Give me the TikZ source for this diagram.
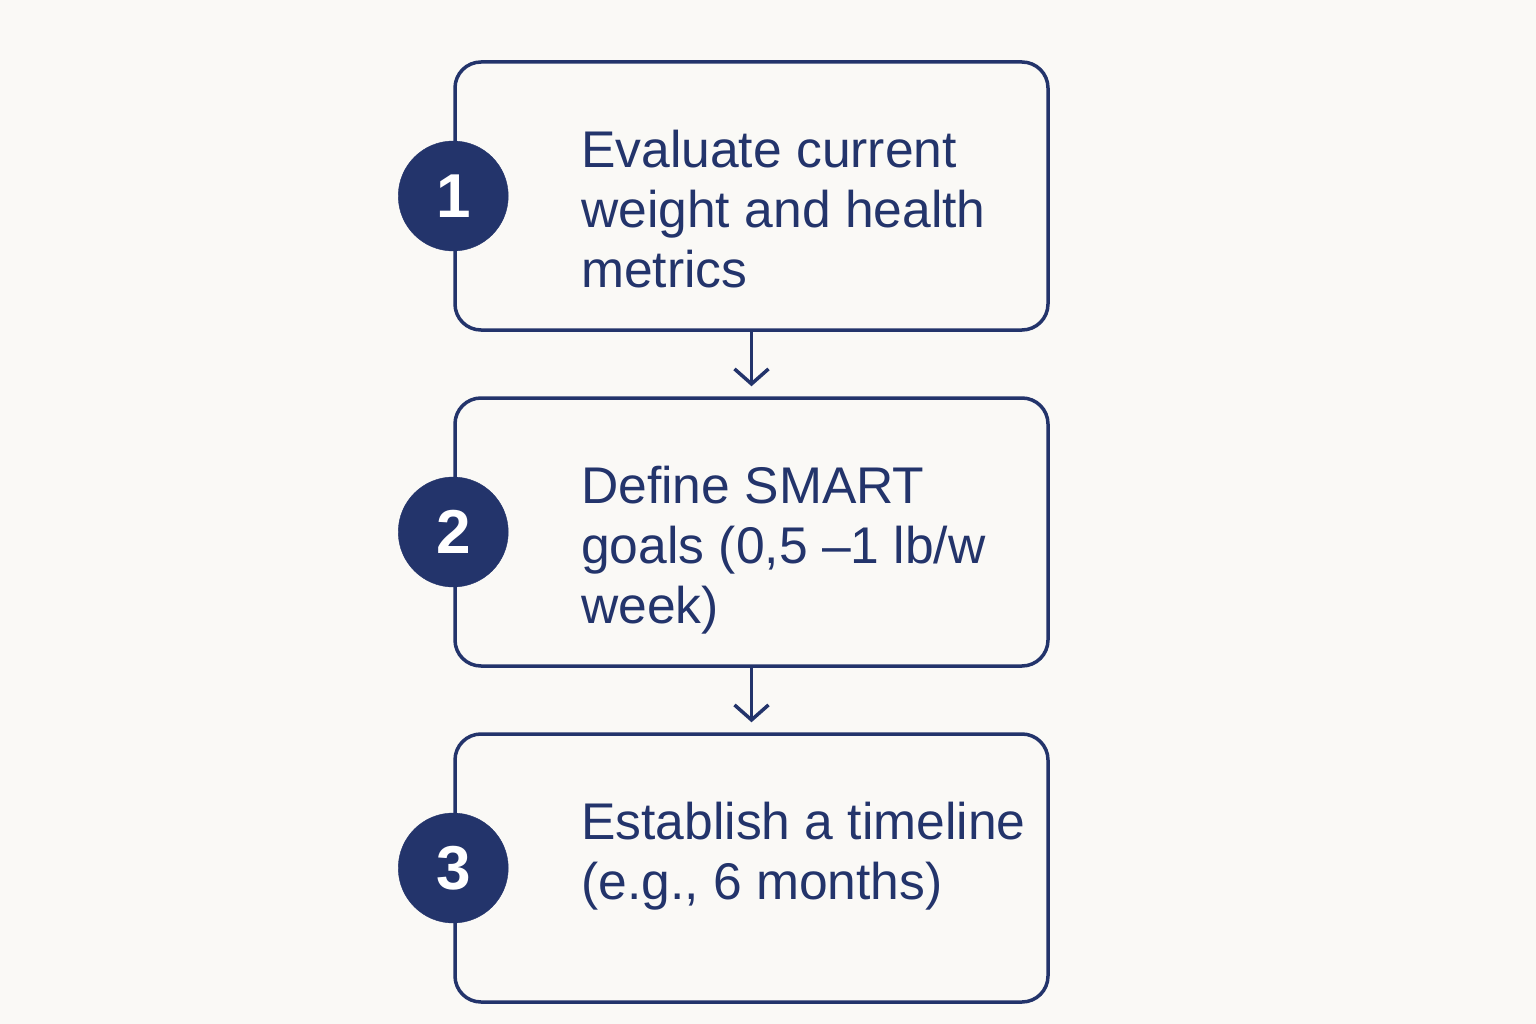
\documentclass[tikz,border=0pt]{standalone}
\usepackage{fontspec}
\setmainfont{Liberation Sans}
\usetikzlibrary{positioning,arrows.meta}
\definecolor{navy}{RGB}{35,52,107}
\definecolor{paper}{RGB}{250,249,246}

\tikzset{
  stepbox/.style={draw=navy, line width=3.5pt, rounded corners=26pt,
    minimum width=593pt, minimum height=268pt, inner sep=0pt},
  numdot/.style={circle, fill=navy, draw=navy, minimum size=110pt,
    inner sep=0pt, text=white, font=\fontsize{62}{64}\selectfont\bfseries},
  steptext/.style={anchor=north west, align=left, inner sep=0pt,
    text=navy, font=\fontsize{51.6}{60}\selectfont},
  flow/.style={draw=navy, line width=3.5pt, shorten >=10pt,
    -{Straight Barb[length=15pt,width=34pt]}}
}

\begin{document}
\begin{tikzpicture}[x=1pt,y=-1pt]
    \fill[paper] (0,0) rectangle (1536,1024);
    \useasboundingbox (0,0) rectangle (1536,1024);

    % the three steps
    \node[stepbox] (b1) at (751.5,196) {};
    \node[stepbox] (b2) at (751.5,532) {};
    \node[stepbox] (b3) at (751.5,868) {};

    \node[steptext] (t1) at (581,130) {Evaluate current\\weight and health\\metrics};
    \node[steptext] (t2) at (581,466) {Define SMART\\goals (0,5 –1 lb/w\\week)};
    \node[steptext] (t3) at (581,802) {Establish a timeline\\(e.g., 6 months)};

    \node[numdot] (n1) at (b1.west) {1};
    \node[numdot] (n2) at (b2.west) {2};
    \node[numdot] (n3) at (b3.west) {3};

    % arrows between boxes
    \draw[flow] (b1.south) -- (b2.north);
    \draw[flow] (b2.south) -- (b3.north);
\end{tikzpicture}
\end{document}
